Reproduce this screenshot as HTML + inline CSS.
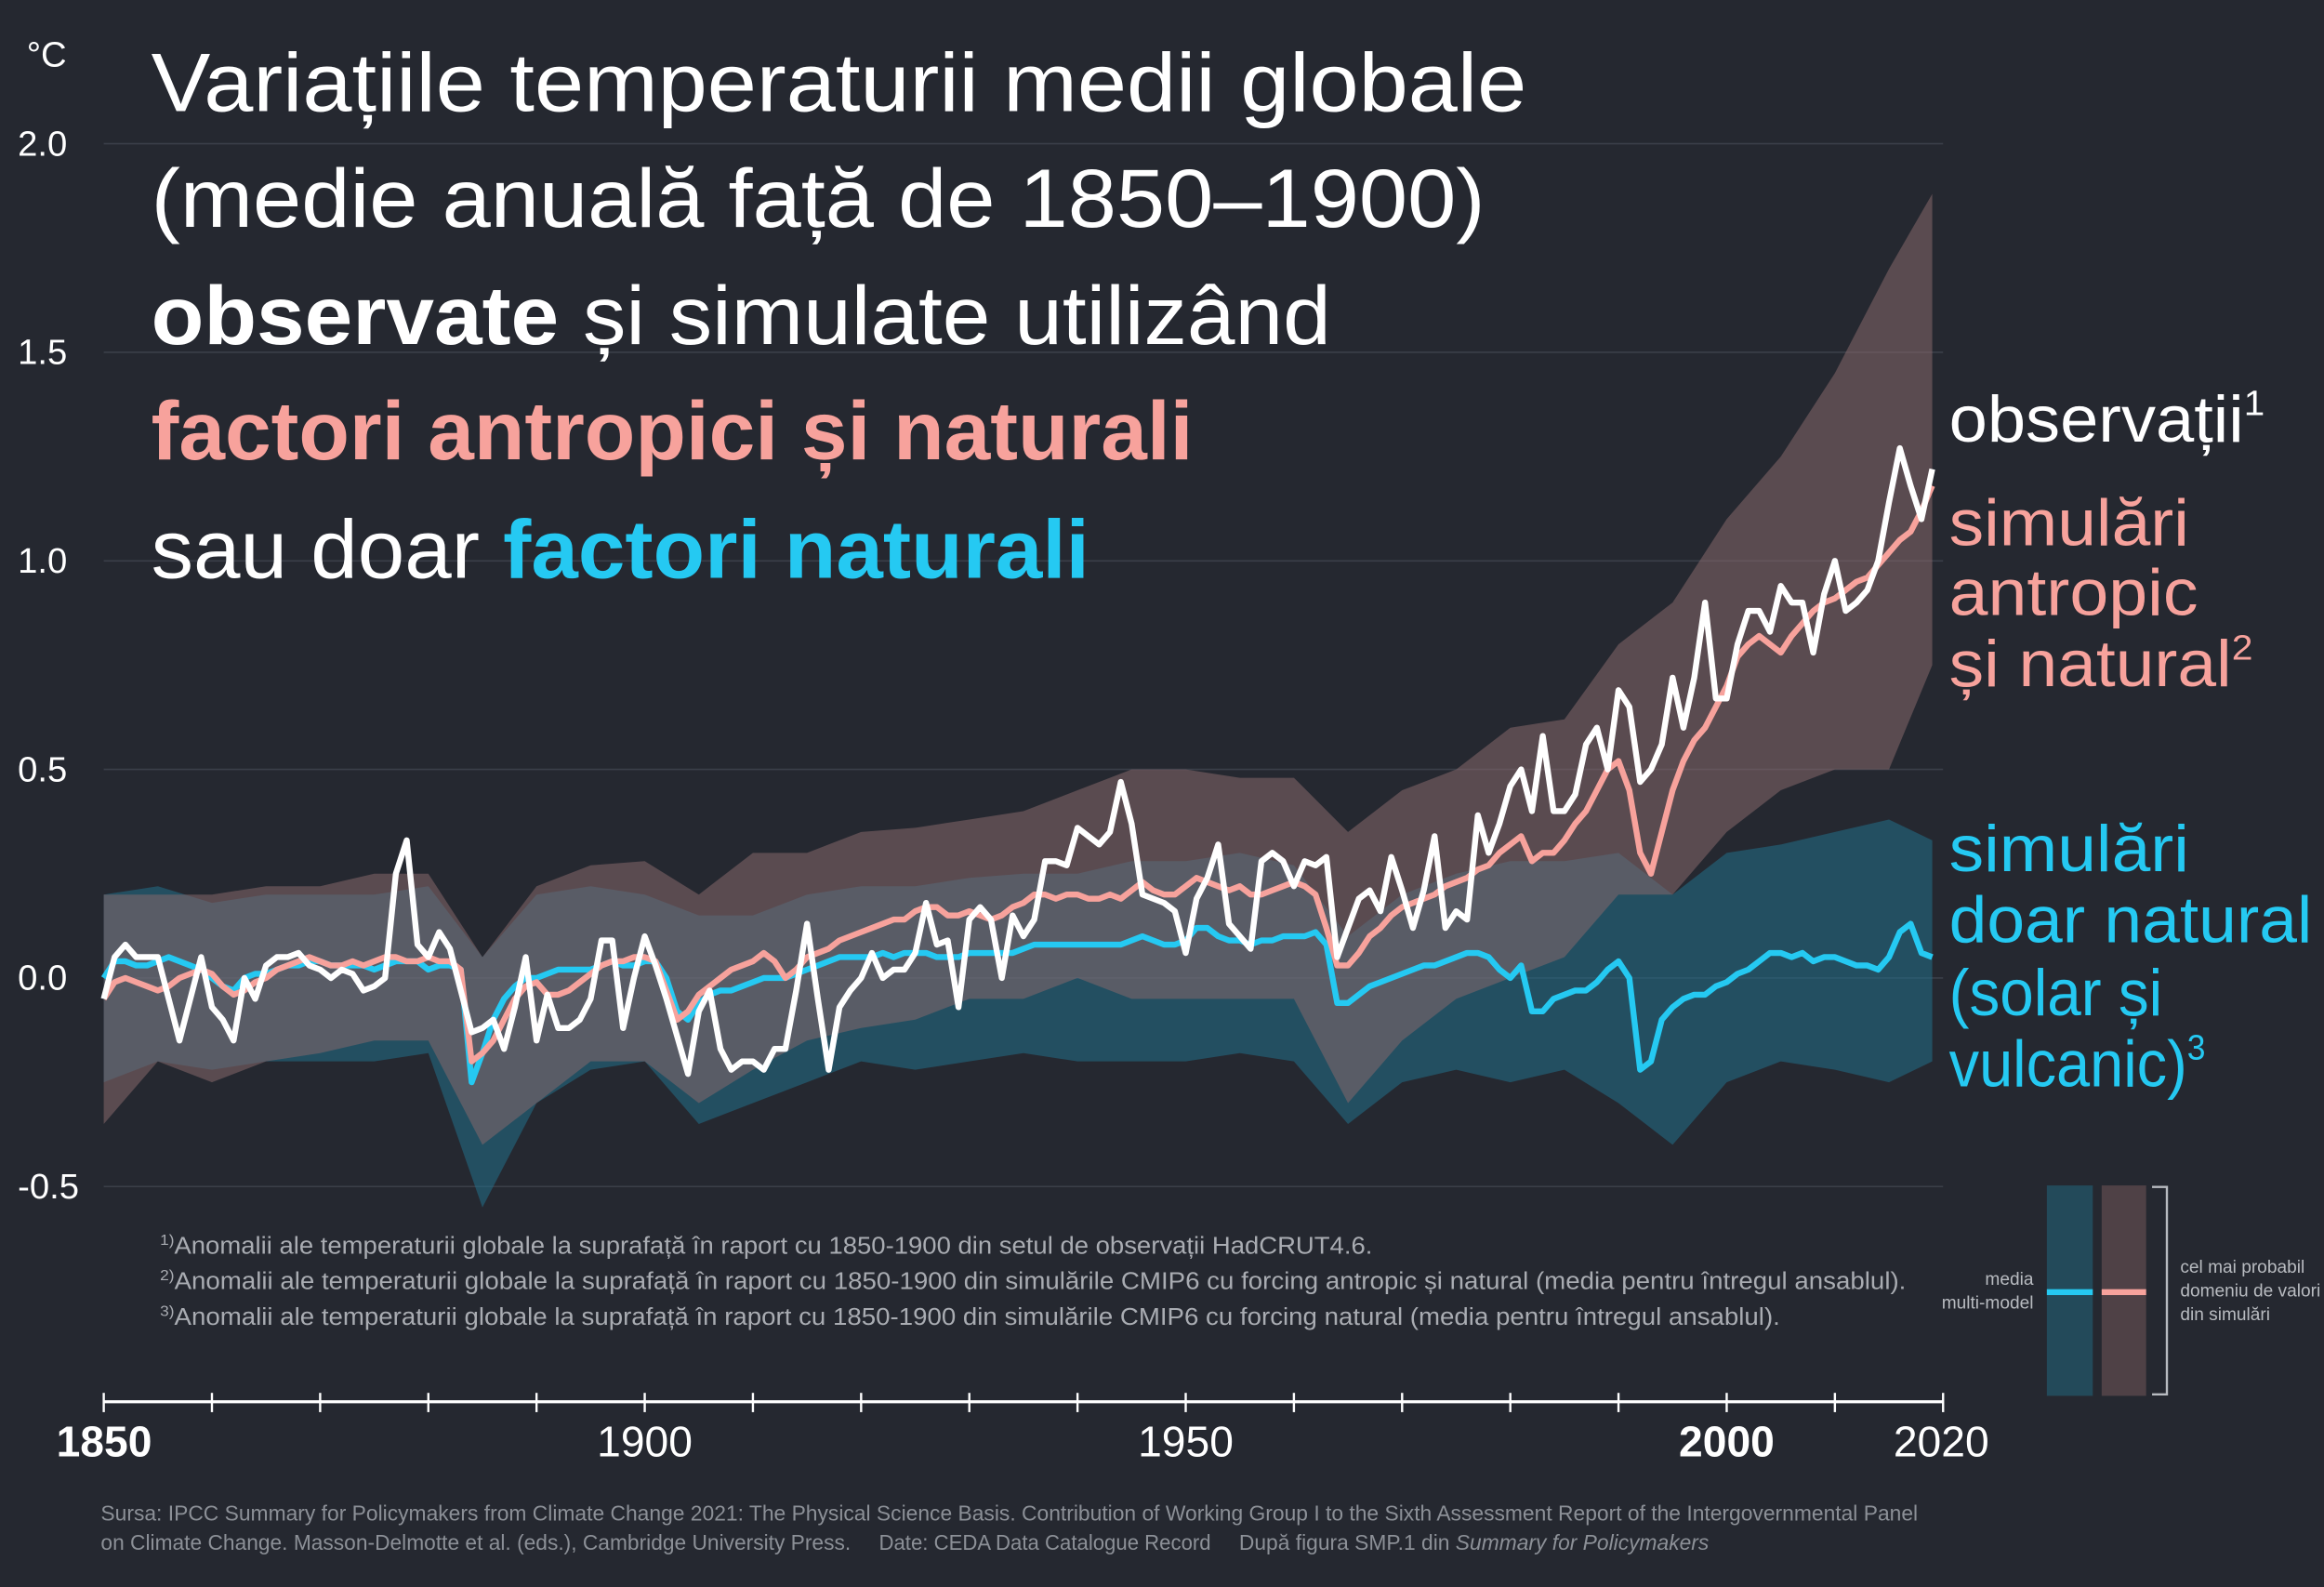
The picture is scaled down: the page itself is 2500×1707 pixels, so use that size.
<!DOCTYPE html>
<html><head><meta charset="utf-8"><style>
html,body{margin:0;padding:0;background:#252830;}
svg{display:block;font-family:"Liberation Sans",sans-serif;}
</style></head><body>
<svg id="chart" width="2500" height="1707" viewBox="0 0 1568 1071" preserveAspectRatio="none" xmlns="http://www.w3.org/2000/svg">
<rect width="1568" height="1071" fill="#252830"/>
<g id="grid"></g>
<g id="bands"></g>
<g id="lines"></g>
<g id="yaxis"></g>
<g id="xaxis"></g>
<text x="18" y="45" fill="#fff" font-size="24">°C</text>

<g fill="#fff" font-size="56">
<text x="102" y="75" textLength="928" lengthAdjust="spacingAndGlyphs">Variațiile temperaturii medii globale</text>
<text x="102" y="153" textLength="900" lengthAdjust="spacingAndGlyphs">(medie anuală față de 1850–1900)</text>
<text x="102" y="232" textLength="796" lengthAdjust="spacingAndGlyphs"><tspan font-weight="bold">observate</tspan> și simulate utilizând</text>
<text x="102" y="310" textLength="703" lengthAdjust="spacingAndGlyphs" fill="#f7a29c" font-weight="bold">factori antropici și naturali</text>
<text x="102" y="390" textLength="633" lengthAdjust="spacingAndGlyphs">sau doar <tspan fill="#25c9f2" font-weight="bold">factori naturali</tspan></text>
</g>

<g font-size="44">
<text x="1315" y="298" fill="#fff" textLength="213" lengthAdjust="spacingAndGlyphs">observații<tspan font-size="24" dy="-18">1</tspan></text>
<text x="1315" y="368" fill="#f7a29c" textLength="162" lengthAdjust="spacingAndGlyphs">simulări</text>
<text x="1315" y="415" fill="#f7a29c" textLength="168" lengthAdjust="spacingAndGlyphs">antropic</text>
<text x="1315" y="463" fill="#f7a29c" textLength="205" lengthAdjust="spacingAndGlyphs">și natural<tspan font-size="24" dy="-18">2</tspan></text>
<text x="1315" y="588" fill="#25c9f2" textLength="162" lengthAdjust="spacingAndGlyphs">simulări</text>
<text x="1315" y="636" fill="#25c9f2" textLength="245" lengthAdjust="spacingAndGlyphs">doar natural</text>
<text x="1315" y="685" fill="#25c9f2" textLength="144" lengthAdjust="spacingAndGlyphs">(solar și</text>
<text x="1315" y="733" fill="#25c9f2" textLength="173" lengthAdjust="spacingAndGlyphs">vulcanic)<tspan font-size="24" dy="-18">3</tspan></text>
</g>

<g fill="#a9acb2" font-size="16">
<text x="108" y="846" textLength="818" lengthAdjust="spacingAndGlyphs"><tspan font-size="10" dy="-6">1)</tspan><tspan dy="6">Anomalii ale temperaturii globale la suprafață în raport cu 1850-1900 din setul de observații HadCRUT4.6.</tspan></text>
<text x="108" y="870" textLength="1178" lengthAdjust="spacingAndGlyphs"><tspan font-size="10" dy="-6">2)</tspan><tspan dy="6">Anomalii ale temperaturii globale la suprafață în raport cu 1850-1900 din simulările CMIP6 cu forcing antropic și natural (media pentru întregul ansablul).</tspan></text>
<text x="108" y="894" textLength="1093" lengthAdjust="spacingAndGlyphs"><tspan font-size="10" dy="-6">3)</tspan><tspan dy="6">Anomalii ale temperaturii globale la suprafață în raport cu 1850-1900 din simulările CMIP6 cu forcing natural (media pentru întregul ansablul).</tspan></text>
</g>

<g fill="#8c9097" font-size="14.5">
<text x="68" y="1026" textLength="1226" lengthAdjust="spacingAndGlyphs">Sursa: IPCC Summary for Policymakers from Climate Change 2021: The Physical Science Basis. Contribution of Working Group I to the Sixth Assessment Report of the Intergovernmental Panel</text>
<text x="68" y="1046" textLength="506" lengthAdjust="spacingAndGlyphs">on Climate Change. Masson-Delmotte et al. (eds.), Cambridge University Press.</text>
<text x="593" y="1046" textLength="224" lengthAdjust="spacingAndGlyphs">Date: CEDA Data Catalogue Record</text>
<text x="836" y="1046" textLength="317" lengthAdjust="spacingAndGlyphs">După figura SMP.1 din <tspan font-style="italic">Summary for Policymakers</tspan></text>
</g>

<g>
<rect x="1381" y="800" width="31" height="142" fill="#234a5a"/>
<rect x="1418" y="800" width="30" height="142" fill="#4f4146"/>
<rect x="1381" y="870" width="31" height="4" fill="#25c9f2"/>
<rect x="1418" y="870" width="30" height="4" fill="#f7a29c"/>
<path d="M1452 801 H1462 V941 H1452" fill="none" stroke="#b8bbc0" stroke-width="1.5"/>
<text x="1372" y="867" text-anchor="end" fill="#b8bbc0" font-size="12">media</text>
<text x="1372" y="883" text-anchor="end" fill="#b8bbc0" font-size="12">multi-model</text>
<text x="1471" y="859" fill="#b8bbc0" font-size="12">cel mai probabil</text>
<text x="1471" y="875" fill="#b8bbc0" font-size="12">domeniu de valori</text>
<text x="1471" y="891" fill="#b8bbc0" font-size="12">din simulări</text>
</g>
</svg>
<script>
const NS = "http://www.w3.org/2000/svg";
const startYear = 1850;
const observed = [-0.05,0.05,0.08,0.05,0.05,0.05,-0.05,-0.15,-0.05,0.05,
-0.07,-0.1,-0.15,0.0,-0.05,0.03,0.05,0.05,0.06,0.03,
0.02,0.0,0.02,0.01,-0.03,-0.02,0.0,0.25,0.33,0.08,
0.05,0.11,0.07,-0.03,-0.13,-0.12,-0.1,-0.17,-0.07,0.05,
-0.15,-0.04,-0.12,-0.12,-0.1,-0.05,0.09,0.09,-0.12,0.0,
0.1,0.03,-0.05,-0.14,-0.23,-0.08,-0.03,-0.17,-0.22,-0.2,
-0.2,-0.22,-0.17,-0.17,-0.03,0.13,-0.05,-0.22,-0.07,-0.03,
0.0,0.06,0.0,0.02,0.02,0.06,0.18,0.08,0.09,-0.07,
0.14,0.17,0.14,0.0,0.15,0.1,0.14,0.28,0.28,0.27,
0.36,0.34,0.32,0.35,0.47,0.37,0.2,0.19,0.18,0.16,
0.06,0.19,0.24,0.32,0.13,0.1,0.07,0.28,0.3,0.28,
0.22,0.28,0.27,0.29,0.05,0.12,0.19,0.21,0.16,0.29,
0.21,0.12,0.21,0.34,0.12,0.16,0.14,0.39,0.3,0.37,
0.46,0.5,0.4,0.58,0.4,0.4,0.44,0.56,0.6,0.5,
0.69,0.65,0.47,0.5,0.56,0.72,0.6,0.72,0.9,0.67,
0.67,0.8,0.88,0.88,0.83,0.94,0.9,0.9,0.78,0.92,
1.0,0.88,0.9,0.93,1.0,1.14,1.27,1.18,1.1,1.22];
const anthroMean = [-0.05,-0.01,0.0,-0.01,-0.02,-0.03,-0.02,0.0,0.01,0.02,
0.01,-0.02,-0.04,-0.03,-0.01,0.0,0.02,0.03,0.04,0.05,
0.04,0.03,0.03,0.04,0.03,0.04,0.05,0.05,0.04,0.04,
0.05,0.04,0.04,0.02,-0.2,-0.18,-0.15,-0.1,-0.05,-0.02,
-0.01,-0.04,-0.04,-0.03,-0.01,0.01,0.03,0.04,0.04,0.05,
0.05,0.04,-0.03,-0.1,-0.08,-0.04,-0.02,0.0,0.02,0.03,
0.04,0.06,0.04,0.0,0.02,0.05,0.06,0.07,0.09,0.1,
0.11,0.12,0.13,0.14,0.14,0.16,0.17,0.17,0.15,0.15,
0.16,0.15,0.14,0.15,0.17,0.18,0.2,0.2,0.19,0.2,
0.2,0.19,0.19,0.2,0.19,0.21,0.23,0.21,0.2,0.2,
0.22,0.24,0.23,0.22,0.21,0.22,0.2,0.2,0.21,0.22,
0.23,0.22,0.2,0.12,0.03,0.03,0.06,0.1,0.12,0.15,
0.17,0.18,0.19,0.2,0.22,0.23,0.24,0.26,0.27,0.3,
0.32,0.34,0.28,0.3,0.3,0.33,0.37,0.4,0.45,0.5,
0.52,0.45,0.3,0.25,0.35,0.45,0.52,0.57,0.6,0.65,
0.7,0.77,0.8,0.82,0.8,0.78,0.82,0.85,0.88,0.9,
0.91,0.93,0.95,0.96,0.99,1.02,1.05,1.07,1.12,1.18];
const naturalMean = [0.0,0.04,0.04,0.03,0.03,0.04,0.05,0.04,0.03,0.02,
0.0,-0.02,-0.03,0.0,0.01,0.01,0.02,0.03,0.03,0.04,
0.04,0.03,0.03,0.03,0.03,0.02,0.03,0.04,0.04,0.04,
0.02,0.03,0.03,0.02,-0.25,-0.18,-0.1,-0.05,-0.02,0.0,
0.0,0.01,0.02,0.02,0.02,0.02,0.03,0.04,0.03,0.03,
0.04,0.04,0.0,-0.08,-0.1,-0.06,-0.04,-0.03,-0.03,-0.02,
-0.01,0.0,0.0,0.0,0.01,0.02,0.03,0.04,0.05,0.05,
0.05,0.05,0.06,0.05,0.06,0.06,0.06,0.05,0.05,0.05,
0.06,0.06,0.06,0.06,0.06,0.07,0.08,0.08,0.08,0.08,
0.08,0.08,0.08,0.08,0.08,0.09,0.1,0.09,0.08,0.08,
0.09,0.12,0.12,0.1,0.09,0.09,0.08,0.09,0.09,0.1,
0.1,0.1,0.11,0.08,-0.06,-0.06,-0.04,-0.02,-0.01,0.0,
0.01,0.02,0.03,0.03,0.04,0.05,0.06,0.06,0.05,0.02,
0.0,0.03,-0.08,-0.08,-0.05,-0.04,-0.03,-0.03,-0.01,0.02,
0.04,0.0,-0.22,-0.2,-0.1,-0.07,-0.05,-0.04,-0.04,-0.02,
-0.01,0.01,0.02,0.04,0.06,0.06,0.05,0.06,0.04,0.05,
0.05,0.04,0.03,0.03,0.02,0.05,0.11,0.13,0.06,0.05];
const bandYears = [1850,1855,1860,1865,1870,1875,1880,1885,1890,1895,1900,1905,1910,1915,1920,1925,1930,1935,1940,1945,1950,1955,1960,1965,1970,1975,1980,1985,1990,1995,2000,2005,2010,2015,2019];
const anthroUpper = [0.2,0.2,0.2,0.22,0.22,0.25,0.25,0.05,0.22,0.27,0.28,0.2,0.3,0.3,0.35,0.36,0.38,0.4,0.45,0.5,0.5,0.48,0.48,0.35,0.45,0.5,0.6,0.62,0.8,0.9,1.1,1.25,1.45,1.7,1.88];
const anthroLower = [-0.35,-0.2,-0.25,-0.2,-0.18,-0.15,-0.15,-0.4,-0.3,-0.2,-0.2,-0.3,-0.22,-0.15,-0.12,-0.1,-0.05,-0.05,0.0,-0.05,-0.05,-0.05,-0.05,-0.3,-0.15,-0.05,0.0,0.05,0.2,0.2,0.35,0.45,0.5,0.5,0.75];
const naturalUpper = [0.2,0.22,0.18,0.2,0.2,0.2,0.22,0.05,0.2,0.22,0.2,0.15,0.15,0.2,0.22,0.22,0.24,0.25,0.25,0.28,0.28,0.3,0.27,0.1,0.2,0.25,0.28,0.28,0.3,0.2,0.3,0.32,0.35,0.38,0.33];
const naturalLower = [-0.25,-0.2,-0.22,-0.2,-0.2,-0.2,-0.18,-0.55,-0.3,-0.22,-0.2,-0.35,-0.3,-0.25,-0.2,-0.22,-0.2,-0.18,-0.2,-0.2,-0.2,-0.18,-0.2,-0.35,-0.25,-0.22,-0.25,-0.22,-0.3,-0.4,-0.25,-0.2,-0.22,-0.25,-0.2];
const yTicks = [2.0,1.5,1.0,0.5,0.0,-0.5];
const yTickLabels = ["2.0","1.5","1.0","0.5","0.0","-0.5"];
const xTickLabelYears = [1850,1900,1950,2000,2020];
const xTickBold = [true,false,false,true,false];

const X0=70, X1=1311, Y0=660, PXPER=281.5;
function xs(yr){return X0+(yr-1850)*(X1-X0)/170;}
function ys(v){return Y0-v*PXPER;}
function mk(tag,attrs,parent){const e=document.createElementNS(NS,tag);for(const k in attrs)e.setAttribute(k,attrs[k]);parent.appendChild(e);return e;}

const grid=document.getElementById('grid'), yaxis=document.getElementById('yaxis');
yTicks.forEach((v,i)=>{
  const l=mk('line',{x1:X0,x2:X1,y1:ys(v),y2:ys(v),stroke:'#3b3f49','stroke-width':1},grid);
  
  
  const t=mk('text',{x:12,y:ys(v)+8,fill:'#fff','font-size':24},yaxis);
  t.textContent=yTickLabels[i];
  
  
});

const bands=document.getElementById('bands');
function band(up,lo,fill,op,name){
  let d='M'+bandYears.map((y,i)=>xs(y)+' '+ys(up[i])).join(' L');
  d+=' L'+bandYears.map((y,i)=>xs(y)+' '+ys(lo[i])).reverse().join(' L')+' Z';
  const p=mk('path',{d:d,fill:fill,'fill-opacity':op},bands);
  
  
}
band(naturalUpper,naturalLower,'#23708a',0.55,'natural-range-band');
band(anthroUpper,anthroLower,'#86676c',0.55,'anthro-range-band');

const lines=document.getElementById('lines');
function line(arr,color,name){
  const d='M'+arr.map((v,i)=>xs(startYear+i)+' '+ys(v)).join(' L');
  const p=mk('path',{d:d,fill:'none',stroke:color,'stroke-width':4,'stroke-linejoin':'round'},lines);
  
  
}
line(naturalMean,'#25c9f2','natural-mean-line');
line(anthroMean,'#f7a29c','anthro-mean-line');
line(observed,'#ffffff','observed-line');

const xaxis=document.getElementById('xaxis');
const ax=mk('line',{x1:X0,x2:X1,y1:946,y2:946,stroke:'#fff','stroke-width':2},xaxis);


for(let y=1850;y<=2020;y+=10){
  const t=mk('line',{x1:xs(y),x2:xs(y),y1:940,y2:953,stroke:'#fff','stroke-width':1.5},xaxis);
  
  
}
xTickLabelYears.forEach((y,i)=>{
  const anchor = i===0?'start':(i===xTickLabelYears.length-1?'end':'middle');
  const t=mk('text',{x:i===0?38:xs(y)+(i===xTickLabelYears.length-1?31:0),y:983,fill:'#fff','font-size':29,'text-anchor':anchor,'font-weight':xTickBold[i]?'bold':'normal'},xaxis);
  t.textContent=y;
  
  
});
</script>
</body></html>
